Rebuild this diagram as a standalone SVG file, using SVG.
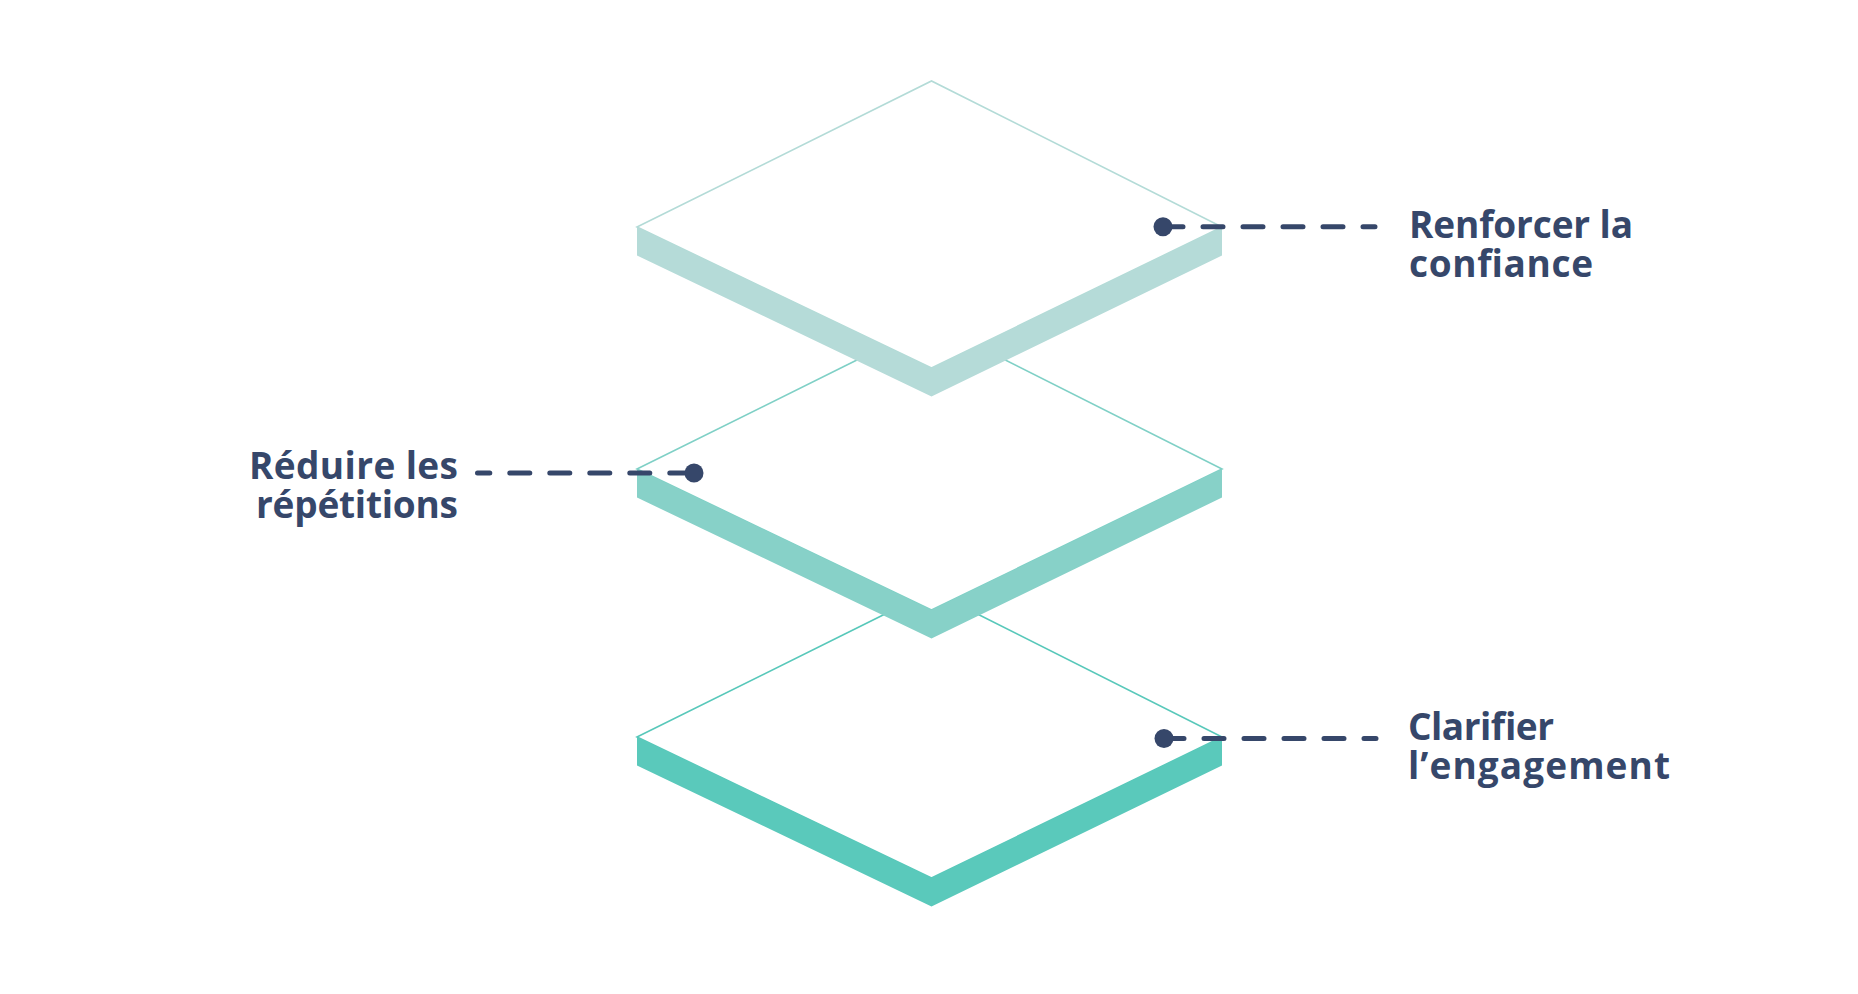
<svg xmlns="http://www.w3.org/2000/svg" width="1858" height="994" viewBox="0 0 1858 994">
  <style>
    .face { fill: #ffffff; stroke-width: 1.6; stroke-linejoin: miter; }
    .l1 .face { stroke: #b3dbd7; }
    .l1 .side { fill: #b5dbd8; }
    .l2 .face { stroke: #7fd0c6; }
    .l2 .side { fill: #87d1c8; }
    .l3 .face { stroke: #58c8ba; }
    .l3 .side { fill: #5ac9bb; }
    .dash { fill: none; stroke: #36476a; stroke-width: 5; stroke-linecap: round; stroke-dasharray: 20 20; }
    .dot { fill: #36476a; }
    .label { font-family: "Open Sans", "Noto Sans", "Liberation Sans", sans-serif; font-weight: 700; font-size: 37px; fill: #36476a; }
  </style>
  <rect width="1858" height="994" fill="#ffffff"/>

  <g id="layer-bottom" class="l3">
    <polygon class="face" points="637,737 931.5,591 1222,737 931.5,878"/>
    <polygon class="side" points="637,737 931.5,878 1222,737 1222,765.5 931.5,906.5 637,765.5"/>
  </g>

  <g id="layer-middle" class="l2">
    <polygon class="face" points="637,469 931.5,323 1222,469 931.5,610"/>
    <polygon class="side" points="637,469 931.5,610 1222,469 1222,497.5 931.5,638.5 637,497.5"/>
  </g>

  <g id="layer-top" class="l1">
    <polygon class="face" points="637,227 931.5,81 1222,227 931.5,368"/>
    <polygon class="side" points="637,227 931.5,368 1222,227 1222,255.5 931.5,396.5 637,255.5"/>
  </g>

  <g id="connectors">
    <path class="dash" d="M1163,226.7 H1375"/>
    <circle class="dot" cx="1163" cy="226.7" r="9.5"/>
    <path class="dash" d="M694,473 H477.5" stroke-dashoffset="-4.2"/>
    <circle class="dot" cx="694" cy="473" r="9.5"/>
    <path class="dash" d="M1164,738.5 H1376"/>
    <circle class="dot" cx="1164" cy="738.5" r="9.5"/>
  </g>

  <g id="label-renforcer">
    <text class="label"><tspan x="1409" y="238" textLength="224">Renforcer la</tspan><tspan x="1409" y="277" textLength="184">confiance</tspan></text>
  </g>

  <g id="label-reduire">
    <text class="label" text-anchor="end"><tspan x="458" y="478.5" textLength="209">Réduire les</tspan><tspan x="458" y="517.5" textLength="202">répétitions</tspan></text>
  </g>

  <g id="label-clarifier">
    <text class="label"><tspan x="1408" y="740" textLength="146">Clarifier</tspan><tspan x="1408" y="779" textLength="262">l’engagement</tspan></text>
  </g>
</svg>
